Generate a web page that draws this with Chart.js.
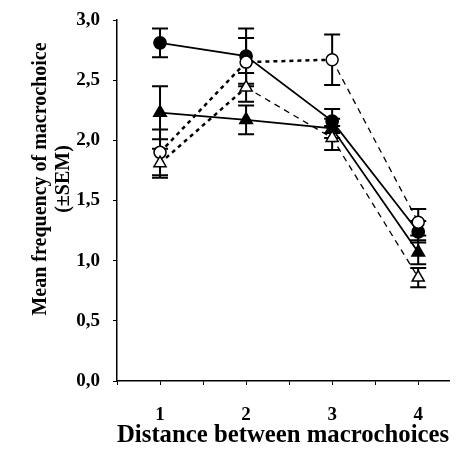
<!DOCTYPE html>
<html>
<head>
<meta charset="utf-8">
<script src="https://cdn.jsdelivr.net/npm/chart.js@4.4.1/dist/chart.umd.min.js"></script>
<style>
  html, body { margin: 0; padding: 0; background: #fff; }
  #wrap { width: 458px; height: 462px; }
</style>
</head>
<body>
<div id="wrap"><canvas id="chart" width="458" height="462"></canvas></div>
<script>
const distances = [1, 2, 3, 4];

const filledCircle = [2.81, 2.70, 2.16, 1.24];
const filledCircleSem = [0.12, 0.23, 0.10, 0.09];

const openCircle = [1.90, 2.65, 2.67, 1.32];
const openCircleSem = [0.19, 0.20, 0.21, 0.11];

const filledTriangle = [2.23, 2.17, 2.10, 1.07];
const filledTriangleSem = [0.22, 0.12, 0.08, 0.10];

const openTriangle = [1.81, 2.44, 2.02, 0.86];
const openTriangleSem = [0.12, 0.12, 0.10, 0.08];

const yTicks = [0, 0.5, 1, 1.5, 2, 2.5, 3];
const xTicks = [0.5, 1, 1.5, 2, 2.5, 3, 3.5, 4];
const yTitle = ["Mean frequency of macrochoice", "(±SEM)"];
const xTitle = "Distance between macrochoices";

const serif = "'Liberation Serif', 'DejaVu Serif', serif";

function pts(vals) {
  return distances.map((d, i) => ({ x: d, y: vals[i] }));
}

// dash pattern per segment: heavy short dashes early, thin long dashes later
function segDash(heavyUntil) {
  return {
    borderDash: ctx => ctx.p0DataIndex < heavyUntil ? [4, 4] : [6, 5],
    borderWidth: ctx => ctx.p0DataIndex < heavyUntil ? 2.5 : 1.3
  };
}

const errorBars = {
  id: "errorBars",
  beforeDatasetsDraw(chart) {
    const ctx = chart.ctx;
    const y = chart.scales.y;
    chart.data.datasets.forEach((ds, di) => {
      const meta = chart.getDatasetMeta(di);
      ds.sem.forEach((s, i) => {
        const p = meta.data[i];
        const top = y.getPixelForValue(ds.data[i].y + s);
        const bot = y.getPixelForValue(ds.data[i].y - s);
        ctx.save();
        ctx.strokeStyle = "#000";
        ctx.lineWidth = 2;
        ctx.beginPath();
        ctx.moveTo(p.x, top); ctx.lineTo(p.x, bot);
        ctx.moveTo(p.x - 8, top); ctx.lineTo(p.x + 8, top);
        ctx.moveTo(p.x - 8, bot); ctx.lineTo(p.x + 8, bot);
        ctx.stroke();
        ctx.restore();
      });
    });
  }
};

// y title drawn by hand so it can sit a little above the axis centre
const yTitlePlugin = {
  id: "yTitle",
  afterDraw(chart) {
    const ctx = chart.ctx;
    ctx.save();
    ctx.fillStyle = "#000";
    ctx.font = "bold 20px " + serif;
    ctx.textAlign = "center";
    ctx.textBaseline = "middle";
    ctx.translate(41, 179);
    ctx.rotate(-Math.PI / 2);
    ctx.fillText(yTitle[0], 0, 0);
    ctx.fillText(yTitle[1], 0, 23);
    ctx.restore();
  }
};

new Chart(document.getElementById("chart"), {
  type: "line",
  data: {
    datasets: [
      {
        data: pts(openTriangle), sem: openTriangleSem,
        borderColor: "#000", pointStyle: "triangle", pointRadius: 7,
        pointBackgroundColor: "#fff", pointBorderColor: "#000", pointBorderWidth: 1.5,
        segment: segDash(1)
      },
      {
        data: pts(openCircle), sem: openCircleSem,
        borderColor: "#000", pointStyle: "circle", pointRadius: 6,
        pointBackgroundColor: "#fff", pointBorderColor: "#000", pointBorderWidth: 1.5,
        segment: segDash(2)
      },
      {
        data: pts(filledTriangle), sem: filledTriangleSem,
        borderColor: "#000", borderWidth: 1.8, pointStyle: "triangle", pointRadius: 7,
        pointBackgroundColor: "#000", pointBorderColor: "#000"
      },
      {
        data: pts(filledCircle), sem: filledCircleSem,
        borderColor: "#000", borderWidth: 1.8, pointStyle: "circle", pointRadius: 6,
        pointBackgroundColor: "#000", pointBorderColor: "#000"
      }
    ]
  },
  plugins: [errorBars, yTitlePlugin],
  options: {
    responsive: false,
    animation: false,
    layout: { padding: { top: 20, right: 3, left: 0, bottom: 0 } },
    plugins: { legend: { display: false }, tooltip: { enabled: false } },
    scales: {
      x: {
        type: "linear", min: 0.5, max: 4.36,
        afterFit: s => { s.height = 81; s.paddingLeft = 0; s.paddingRight = 0; },
        afterBuildTicks: s => { s.ticks = xTicks.map(v => ({ value: v })); },
        border: { color: "#000", width: 1.5 },
        grid: { drawOnChartArea: false, color: "#000", tickLength: 4 },
        ticks: {
          autoSkip: false, maxRotation: 0, color: "#000", padding: 19,
          font: { family: serif, size: 19, weight: "bold" },
          callback: v => Number.isInteger(v) ? String(v) : ""
        },
        title: {
          display: true, text: xTitle, color: "#000",
          font: { family: serif, size: 25, weight: "bold" }, padding: { top: 0, bottom: 11 }
        }
      },
      y: {
        min: 0, max: 3,
        afterFit: s => { s.width = 117; s.paddingTop = 0; s.paddingBottom = 0; },
        afterBuildTicks: s => { s.ticks = yTicks.map(v => ({ value: v })); },
        border: { color: "#000", width: 1.5 },
        grid: { drawOnChartArea: false, color: "#000", tickLength: 4 },
        ticks: {
          color: "#000", padding: 13,
          font: { family: serif, size: 19, weight: "bold" },
          callback: v => v.toFixed(1).replace(".", ",")
        }
      }
    }
  }
});
</script>
</body>
</html>
